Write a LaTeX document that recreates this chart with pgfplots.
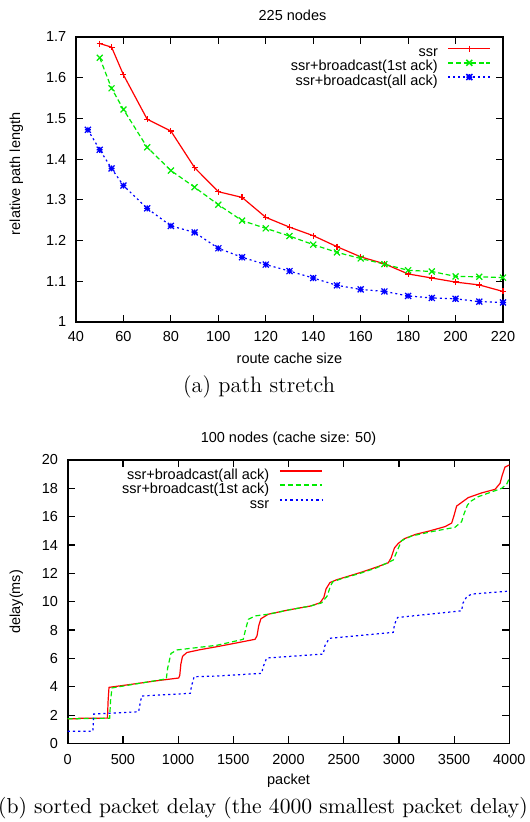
\documentclass[border=0pt]{standalone}
\usepackage{fontspec}
\usepackage{pgfplots}
\pgfplotsset{compat=1.18}
\newfontfamily\gp{Liberation Sans}
\newcommand\gpf{\gp\fontsize{7.25}{8.7}\selectfont}

% gnuplot style star: + and x on top of each other
\pgfdeclareplotmark{gpstar}{%
  \pgfpathmoveto{\pgfqpoint{-\pgfplotmarksize}{0pt}}\pgfpathlineto{\pgfqpoint{\pgfplotmarksize}{0pt}}%
  \pgfpathmoveto{\pgfqpoint{0pt}{-\pgfplotmarksize}}\pgfpathlineto{\pgfqpoint{0pt}{\pgfplotmarksize}}%
  \pgfpathmoveto{\pgfqpoint{-\pgfplotmarksize}{-\pgfplotmarksize}}\pgfpathlineto{\pgfqpoint{\pgfplotmarksize}{\pgfplotmarksize}}%
  \pgfpathmoveto{\pgfqpoint{-\pgfplotmarksize}{\pgfplotmarksize}}\pgfpathlineto{\pgfqpoint{\pgfplotmarksize}{-\pgfplotmarksize}}%
  \pgfusepathqstroke}

\definecolor{gpred}{RGB}{255,0,0}
\definecolor{gpgreen}{RGB}{0,235,0}
\definecolor{gpblue}{RGB}{0,0,255}

\pgfplotsset{
  every axis title shift=0pt,
  gpaxis/.style={
    scale only axis,
    clip=false,
    axis line style={line width=0.8pt},
    tick style={line width=0.6pt,black},
    major tick length=3.5pt,
    tick align=inside,
    /pgf/number format/assume math mode=true,
    ticklabel style={font=\gpf,inner sep=0pt},
    yticklabel style={anchor=east,xshift=-4.65pt},
    label style={font=\gpf},
    title style={font=\gpf,anchor=base},
    legend style={draw=none,fill=none,inner sep=0pt,outer sep=0pt,
      font=\gpf,anchor=north east,column sep=4.85pt,row sep=0pt,
      nodes={inner sep=0pt,text height=5.6pt,text depth=1.5pt}},
    legend plot pos=right,
    legend cell align=right,
  },
  gpmarklegend/.style={
    legend image code/.code={%
      \draw[mark repeat=2,mark phase=2,##1,line width=0.75pt] plot coordinates {(0pt,2pt)(10.5pt,2pt)(21pt,2pt)};}},
  gplinelegend/.style={
    legend image code/.code={%
      \draw[##1,line width=1pt] (0pt,2.2pt) -- (21pt,2.2pt);}},
}

\begin{document}
\begin{tikzpicture}
\useasboundingbox (0,0) rectangle (264.5pt,411pt);

\begin{axis}[gpaxis, gpmarklegend,
  at={(38pt,250pt)}, anchor=south west,
  width=213.5pt, height=142.5pt,
  xmin=40, xmax=220, xtick={40,60,...,220},
  ymin=1, ymax=1.7, ytick={1,1.1,1.2,1.3,1.4,1.5,1.6,1.7},
  xticklabel style={anchor=base,yshift=-9.85pt},
  title={225 nodes},
  title style={at={(axis description cs:0.507,1.0586)}},
  xlabel={route cache size},
  xlabel style={at={(axis description cs:0.5,-0.1474)},anchor=base},
  ylabel={relative path length},
  ylabel style={at={(axis description cs:-0.1398,0.52)},anchor=center},
  legend style={at={(axis description cs:0.972,0.970)}},
]
\addplot[color=gpred,line width=0.6pt,mark=+,mark size=1.5pt] coordinates {
(50,1.684)(55,1.675)(60,1.607)(70,1.498)(80,1.469)(90,1.379)(100,1.320)(110,1.306)(120,1.257)(130,1.233)(140,1.212)(150,1.185)(160,1.160)(170,1.143)(180,1.118)(190,1.108)(200,1.098)(210,1.091)(220,1.075)};
\addlegendentry{ssr}
\addplot[color=gpgreen,line width=0.6pt,dash pattern=on 2.4pt off 1.4pt,mark=x,mark size=2.1pt,mark options={solid}] coordinates {
(50,1.649)(55,1.574)(60,1.522)(70,1.429)(80,1.372)(90,1.331)(100,1.288)(110,1.249)(120,1.230)(130,1.211)(140,1.190)(150,1.171)(160,1.156)(170,1.142)(180,1.127)(190,1.124)(200,1.112)(210,1.111)(220,1.109)};
\addlegendentry{ssr+broadcast(1st ack)}
\addplot[color=gpblue,line width=0.6pt,dash pattern=on 1pt off 1.5pt,mark=gpstar,mark size=1.5pt,mark options={solid}] coordinates {
(45,1.472)(50,1.423)(55,1.377)(60,1.335)(70,1.279)(80,1.236)(90,1.220)(100,1.181)(110,1.159)(120,1.141)(130,1.125)(140,1.108)(150,1.090)(160,1.080)(170,1.075)(180,1.064)(190,1.059)(200,1.057)(210,1.050)(220,1.048)};
\addlegendentry{ssr+broadcast(all ack)}
\end{axis}

\node[anchor=base,font=\fontsize{11.2}{13}\selectfont] at (129.5pt,214.7pt) {(a) path stretch};

\begin{axis}[gpaxis, gplinelegend,
  at={(33.85pt,39.25pt)}, anchor=south west,
  width=220.8pt, height=141.75pt,
  xmin=0, xmax=4000, xtick={0,500,...,4000},
  scaled ticks=false,
  xticklabel style={anchor=base,yshift=-10.75pt,/pgf/number format/1000 sep={}},
  ymin=0, ymax=20, ytick={0,2,...,20},
  title={100 nodes (cache size: 50)},
  title style={at={(axis description cs:0.5,1.0611)}},
  xlabel={packet},
  xlabel style={at={(axis description cs:0.5,-0.1431)},anchor=base},
  ylabel={delay(ms)},
  ylabel style={at={(axis description cs:-0.1164,0.5)},anchor=center},
  legend style={at={(axis description cs:0.578,0.970)}},
]
\addplot[color=gpred,line width=0.6pt,mark=none] coordinates {
(0,1.74)(90,1.75)(100,1.78)(360,1.79)(366,3.0)(374,3.96)(600,4.2)(800,4.42)(1005,4.62)(1015,4.8)(1025,5.6)(1040,6.15)(1080,6.42)(1200,6.62)(1352,6.83)(1500,7.05)(1697,7.35)(1715,7.6)(1730,8.3)(1750,8.8)(1817,9.12)(2000,9.42)(2200,9.7)(2285,9.92)(2320,10.3)(2340,10.9)(2375,11.35)(2436,11.55)(2647,12.05)(2800,12.45)(2904,12.75)(2930,13.1)(2960,13.8)(2995,14.12)(3050,14.45)(3150,14.75)(3280,15.0)(3418,15.3)(3478,15.55)(3500,16.1)(3523,16.75)(3629,17.35)(3750,17.68)(3871,17.93)(3916,18.35)(3935,18.9)(3961,19.5)(4000,19.65)};
\addlegendentry{ssr+broadcast(all ack)}
\addplot[color=gpgreen,line width=0.6pt,mark=none,dash pattern=on 2.5pt off 1.5pt] coordinates {
(0,1.74)(380,1.78)(388,3.0)(401,3.92)(600,4.18)(893,4.56)(905,5.3)(935,6.35)(990,6.6)(1352,6.93)(1590,7.35)(1610,8.0)(1636,8.76)(1697,9.0)(1817,9.12)(2000,9.42)(2200,9.7)(2300,9.92)(2350,10.4)(2380,11.1)(2400,11.4)(2470,11.6)(2647,12.0)(2800,12.4)(2949,12.94)(2985,13.6)(3024,14.31)(3115,14.64)(3300,14.95)(3508,15.25)(3568,15.65)(3590,16.2)(3620,16.8)(3645,17.06)(3719,17.41)(3931,18.0)(3977,18.3)(4000,18.7)};
\addlegendentry{ssr+broadcast(1st ack)}
\addplot[color=gpblue,line width=0.6pt,mark=none,dash pattern=on 1.1pt off 1.5pt] coordinates {
(0,0.87)(229,0.87)(232,1.5)(236,2.08)(643,2.24)(650,2.6)(670,3.35)(1111,3.54)(1120,4.0)(1145,4.71)(1352,4.76)(1757,4.95)(1770,5.4)(1802,6.03)(2315,6.31)(2330,6.9)(2370,7.42)(2647,7.62)(2949,7.84)(2960,8.4)(2988,8.89)(3568,9.36)(3580,9.9)(3614,10.35)(3659,10.54)(4000,10.75)};
\addlegendentry{ssr}
\end{axis}

\node[anchor=base,font=\fontsize{10.8}{13}\selectfont] at (131.5pt,4.35pt) {(b) sorted packet delay (the 4000 smallest packet delay)};
\end{tikzpicture}
\end{document}
